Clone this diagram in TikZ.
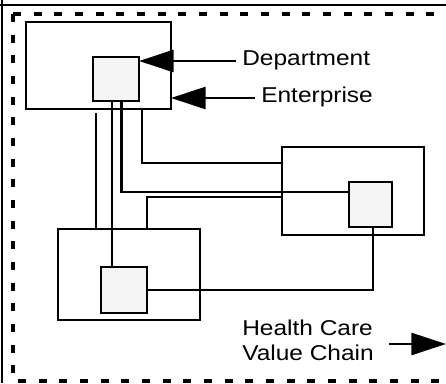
\documentclass[tikz,border=0pt]{standalone}
\usepackage{fontspec}
\setmainfont{Liberation Sans}[FakeStretch=1.14]
\usetikzlibrary{arrows.meta,fit}

\begin{document}
\begin{tikzpicture}[x=0.75pt,y=-0.75pt,
  box/.style={draw, line width=2pt, inner sep=0pt, outer sep=0pt},
  unit/.style={box, fill=black!4},
  wire/.style={line width=2pt},
  frame/.style={line width=2pt},
  zone/.style={line width=2.3pt, dash pattern=on 6pt off 9.5pt},
  pointer/.style={line width=2pt, -{Triangle[length=26pt, width=16.5pt]}},
  lbl/.style={font=\fontsize{16.1}{19.5}\selectfont, inner sep=0pt, anchor=base west},
]
\useasboundingbox (0,0) rectangle (446,383);

% outer frame edges
\draw[frame] (0,5) -- (446,5);
\draw[frame] (2,0) -- (2,383);

% dashed value-chain zone
\draw[zone] (13,14) -- (446,14);
\draw[zone] (13,14) -- (13,381) -- (446,381);

% enterprises with their departments
\node[box, fit={(26,22) (171,109)}] (ent) {};
\node[unit, fit={(93,57) (139,101)}] (dept) {};
\node[box, fit={(282,147) (424,235)}] (rbig) {};
\node[unit, fit={(349,182) (392,227)}] (rsmall) {};
\node[box, fit={(58,229) (200,320)}] (bbig) {};
\node[unit, fit={(101,267) (147,313)}] (bsmall) {};

% column and row positions of the wires
\coordinate (x96) at (96,0);
\coordinate (x112) at (112,0);
\coordinate (x121) at (121.5,0);
\coordinate (x142) at (142,0);
\coordinate (x147) at (147,0);
\coordinate (x373) at (373,0);
\coordinate (y163) at (0,163);
\coordinate (y192) at (0,192);
\coordinate (y197) at (0,197);

% links between the organisations
\draw[wire] ([yshift=-3pt]x96 |- ent.south) -- (x96 |- bbig.north);
\draw[wire] (x112 |- dept.south) -- (x112 |- bsmall.north);
\draw[wire] (x121 |- dept.south) |- (rsmall.west |- y192);
\draw[wire] (x142 |- ent.south) |- (rbig.west |- y163);
\draw[wire] (x147 |- bbig.north) |- (rbig.west |- y197);
\draw[wire] (bsmall.east) -| (x373 |- rsmall.south);

% labels with pointers
\node[lbl] (deptlab) at (242,65) {Department};
\coordinate (dptr) at (236,61);
\draw[pointer] (dptr) -- (dptr -| dept.east);

\node[lbl] (entlab) at (261,102) {Enterprise};
\coordinate (eptr) at (255,98);
\draw[pointer] (eptr) -- (eptr -| ent.east);

\node[lbl] (hc1) at (242,335) {Health Care};
\node[lbl] (hc2) at (242,360) {Value Chain};
\coordinate (vstart) at (389,344);
\coordinate (vend) at (446,344);
\draw[pointer] (vstart) -- (vend);
\end{tikzpicture}
\end{document}
